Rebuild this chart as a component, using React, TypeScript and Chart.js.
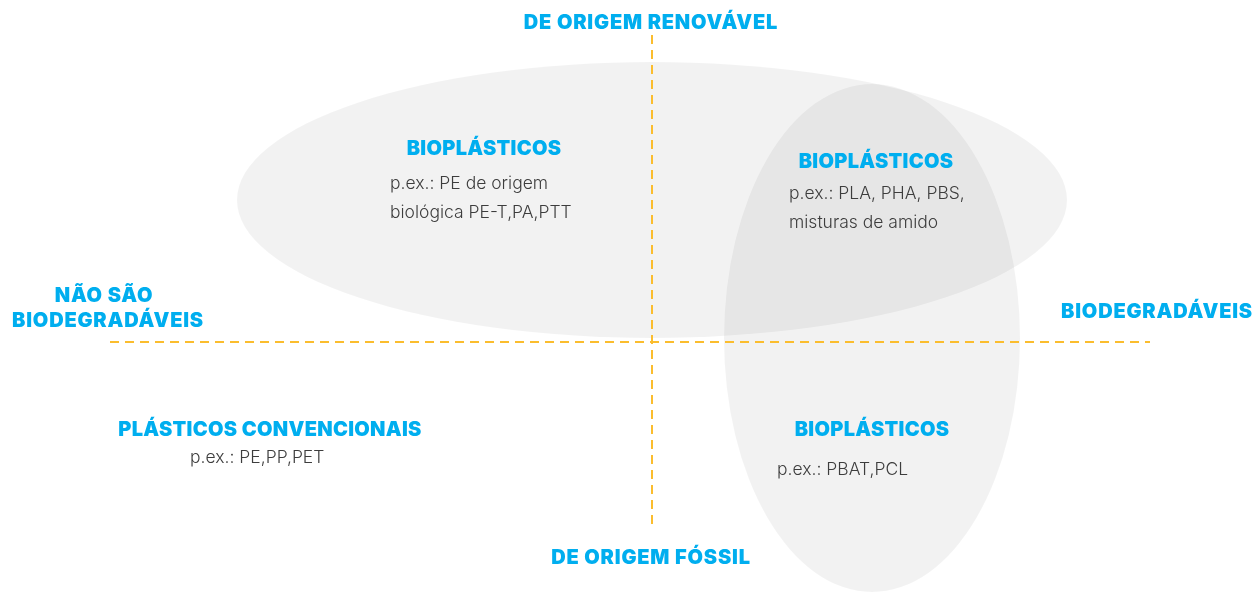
import React, { useEffect, useRef } from "react";
import { Chart, registerables } from "chart.js";

Chart.register(...registerables);

// ---- data (diagram coordinates: x = biodegradability, y = origin; 0,0 = crossing) ----
const axisX = [-5.42, 4.98]; // horizontal axis extent (non-biodegradable -> biodegradable)
const axisY = [3.07, -1.88]; // vertical axis extent (renewable -> fossil)

// ellipses: centre x, centre y, radius x, radius y
const ellipseCx = [0, 2.2];
const ellipseCy = [1.42, 0.04];
const ellipseRx = [4.15, 1.48];
const ellipseRy = [1.38, 2.54];

const axisTitles = ["DE ORIGEM RENOVÁVEL", "DE ORIGEM FÓSSIL", "NÃO SÃO", "BIODEGRADÁVEIS", "BIODEGRADÁVEIS"];
const groupTitles = ["BIOPLÁSTICOS", "BIOPLÁSTICOS", "PLÁSTICOS CONVENCIONAIS", "BIOPLÁSTICOS"];
const groupExamples = [
  ["p.ex.: PE de origem", "biológica PE-T,PA,PTT"],
  ["p.ex.: PLA, PHA, PBS,", "misturas de amido"],
  ["p.ex.: PE,PP,PET"],
  ["p.ex.: PBAT,PCL"],
];

// ---- layout of annotations (positions in diagram units) ----
const axisTitlePos = [
  [-0.01, 3.19],
  [-0.01, -2.16],
  [-5.48, 0.46],
  [-5.44, 0.21],
  [5.05, 0.3],
];
const groupTitlePos = [
  [-1.68, 1.93],
  [2.24, 1.8],
  [-3.82, -0.88],
  [2.2, -0.88],
];
const groupExamplePos = [
  [-2.62, 1.58],
  [1.37, 1.48],
  [-4.62, -1.16],
  [1.25, -1.28],
];
const exampleLineGap = 0.29;

const BLUE = "#00aeef";
const YELLOW = "#fbbd2e";
const TITLE_FONT = "900 20px Inter, 'Open Sans', sans-serif";
const BODY_FONT = "300 17.5px Inter, 'Open Sans', sans-serif";

const diagramPlugin = {
  id: "diagram",
  beforeDatasetsDraw(chart: any) {
    const { ctx, scales } = chart;
    const xs = scales.x;
    const ys = scales.y;
    ctx.save();
    for (let i = 0; i < ellipseCx.length; i++) {
      const cx = xs.getPixelForValue(ellipseCx[i]);
      const cy = ys.getPixelForValue(ellipseCy[i]);
      const rx = Math.abs(xs.getPixelForValue(ellipseCx[i] + ellipseRx[i]) - cx);
      const ry = Math.abs(ys.getPixelForValue(ellipseCy[i] + ellipseRy[i]) - cy);
      ctx.beginPath();
      ctx.ellipse(cx, cy, rx, ry, 0, 0, Math.PI * 2);
      ctx.fillStyle = "rgba(0,0,0,0.052)";
      ctx.fill();
    }
    ctx.restore();
  },
  afterDatasetsDraw(chart: any) {
    const { ctx, scales } = chart;
    const xs = scales.x;
    const ys = scales.y;
    ctx.save();
    ctx.textBaseline = "middle";
    ctx.fillStyle = BLUE;
    ctx.font = TITLE_FONT;
    (ctx as any).letterSpacing = "0.8px";
    axisTitles.forEach((t, i) => {
      const [x, y] = axisTitlePos[i];
      ctx.textAlign = "center";
      ctx.fillText(t, xs.getPixelForValue(x), ys.getPixelForValue(y));
    });
    groupTitles.forEach((t, i) => {
      const [x, y] = groupTitlePos[i];
      ctx.textAlign = "center";
      ctx.fillStyle = BLUE;
      ctx.font = TITLE_FONT;
      (ctx as any).letterSpacing = "0.3px";
      ctx.fillText(t, xs.getPixelForValue(x), ys.getPixelForValue(y));
      const [ex, ey] = groupExamplePos[i];
      ctx.textAlign = "left";
      ctx.fillStyle = "#3d3d3d";
      ctx.font = BODY_FONT;
      (ctx as any).letterSpacing = "0px";
      groupExamples[i].forEach((line, j) => {
        ctx.fillText(line, xs.getPixelForValue(ex), ys.getPixelForValue(ey - j * exampleLineGap));
      });
    });
    ctx.restore();
  },
};

export default function App() {
  const ref = useRef<HTMLCanvasElement | null>(null);
  useEffect(() => {
    if (!ref.current) return;
    const lineStyle = {
      borderColor: YELLOW,
      borderWidth: 2,
      borderDash: [9, 6],
      pointRadius: 0,
      showLine: true,
      fill: false,
    };
    const chart = new Chart(ref.current, {
      type: "scatter",
      data: {
        datasets: [
          { ...lineStyle, data: axisX.map((x) => ({ x, y: 0 })) },
          { ...lineStyle, data: axisY.map((y) => ({ x: 0, y })) },
        ],
      },
      options: {
        animation: false,
        responsive: false,
        devicePixelRatio: 1,
        layout: { padding: 0 },
        plugins: { legend: { display: false }, tooltip: { enabled: false } },
        scales: {
          x: { type: "linear", min: -6.52, max: 6.01, display: false },
          y: { type: "linear", min: -2.5, max: 3.42, display: false },
        },
      },
      plugins: [diagramPlugin],
    });
    return () => chart.destroy();
  }, []);
  return (
    <div style={{ position: "fixed", left: 0, top: 0, width: 1253, height: 592, background: "#fff" }}>
      <canvas ref={ref} width={1253} height={592} style={{ display: "block" }} />
    </div>
  );
}
